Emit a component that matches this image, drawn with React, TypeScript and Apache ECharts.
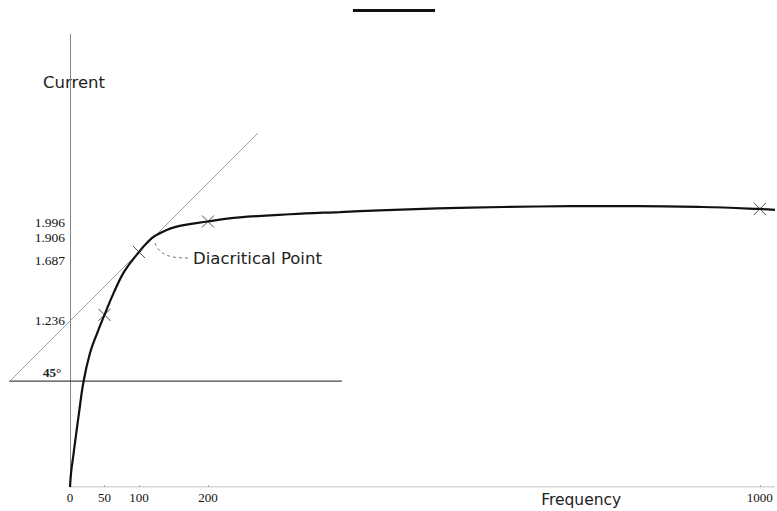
import React, { useEffect, useRef } from "react";
import * as echarts from "echarts";

// Tick labels
const freqTicks = [0, 50, 100, 200, 1000];
const currentTicks = [1.236, 1.687, 1.906, 1.996];

// Measured points (marked with crosses)
const measuredFreq = [50, 100, 200, 1000];
const measuredCurrent = [1.236, 1.687, 1.906, 1.996];

// Drawn curve
const curveFreq = [0, 1.5, 4.5, 8.5, 13, 19.5, 29, 39, 50, 63, 79, 100, 112, 124, 152, 200, 246, 319, 391, 449, 532, 628, 725, 822, 917, 1000, 1022];
const curveCurrent = [0, 0.1, 0.215, 0.365, 0.53, 0.754, 0.962, 1.1, 1.236, 1.39, 1.55, 1.687, 1.755, 1.805, 1.866, 1.906, 1.935, 1.958, 1.974, 1.986, 2.0, 2.01, 2.016, 2.017, 2.01, 1.996, 1.99];

// 45° tangent line at the diacritical point, and its horizontal base
const tangentFreq = [-88, 272.5];
const tangentCurrent = [0.756, 2.541];
const baseFreq = [-88, 394];
const baseCurrent = [0.76, 0.76];

// Frequency axis baseline (starts at 0)
const axisFreq = [0, 1022];
const axisCurrent = [0, 0];

// Per-label vertical shift (as engraved on the original plate)
const labelShift: Record<string, string> = {
  "1.236": "a",
  "1.687": "b",
  "1.906": "c",
  "1.996": "d",
};

export default function App() {
  const ref = useRef<HTMLDivElement>(null);
  useEffect(() => {
    if (!ref.current) return;
    const chart = echarts.init(ref.current, null, { renderer: "svg" });
    const serif = '"Liberation Serif", "Times New Roman", serif';
    const sans = '"DejaVu Sans", sans-serif';
    const labelStyle = { fontFamily: serif, fontSize: 13.5, color: "#111" };
    const gridLeft = 9.3;
    chart.setOption({
      animation: false,
      backgroundColor: "#ffffff",
      grid: {
        left: gridLeft,
        right: 2,
        top: 34.3,
        bottom: 24,
        containLabel: false,
        outerBoundsMode: "none",
      },
      xAxis: {
        type: "value",
        min: -88,
        max: 1022,
        splitLine: { show: false },
        axisLine: { show: false },
        axisTick: {
          show: true,
          inside: true,
          length: 2,
          customValues: freqTicks,
          lineStyle: { color: "#999", width: 0.8 },
        },
        axisLabel: {
          customValues: freqTicks,
          formatter: (v: number) => String(v),
          fontFamily: serif,
          fontSize: 13,
          color: "#111",
          margin: 4,
        },
      },
      yAxis: {
        type: "value",
        min: 0,
        max: 3.25,
        name: "Current",
        nameLocation: "end",
        nameGap: -48,
        nameTextStyle: {
          fontFamily: sans,
          fontSize: 16.5,
          color: "#222",
          align: "center",
          verticalAlign: "middle",
          padding: [0, 0, 0, 8],
        },
        splitLine: { show: false },
        axisLine: { show: true, onZero: true, lineStyle: { color: "#777", width: 0.9 } },
        axisTick: { show: false },
        axisLabel: {
          customValues: currentTicks,
          margin: -(70 - gridLeft - 5),
          formatter: (v: number) => {
            const s = v.toFixed(3);
            return "{" + (labelShift[s] || "a") + "|" + s + "}";
          },
          rich: {
            a: { ...labelStyle, padding: [12, 0, 0, 0] },
            b: { ...labelStyle, padding: [16, 0, 0, 0] },
            c: { ...labelStyle, padding: [32, 0, 0, 0] },
            d: { ...labelStyle, padding: [28, 0, 0, 0] },
          },
        },
      },
      series: [
        {
          name: "axis",
          type: "line",
          data: axisFreq.map((f, i) => [f, axisCurrent[i]]),
          showSymbol: false,
          silent: true,
          lineStyle: { color: "#999", width: 0.8 },
          z: 0,
        },
        {
          name: "base",
          type: "line",
          data: baseFreq.map((f, i) => [f, baseCurrent[i]]),
          showSymbol: false,
          silent: true,
          lineStyle: { color: "#444", width: 1.2 },
          z: 1,
        },
        {
          name: "tangent",
          type: "line",
          data: tangentFreq.map((f, i) => [f, tangentCurrent[i]]),
          showSymbol: false,
          silent: true,
          lineStyle: { color: "#888", width: 0.8 },
          z: 1,
        },
        {
          name: "curve",
          type: "line",
          data: curveFreq.map((f, i) => [f, curveCurrent[i]]),
          showSymbol: false,
          smooth: 0.4,
          lineStyle: { color: "#111", width: 2.2 },
          z: 3,
        },
        {
          name: "measured",
          type: "scatter",
          data: measuredFreq.map((f, i) => [f, measuredCurrent[i]]),
          symbol: "path://M0 0L10 10M10 0L0 10",
          symbolSize: 12,
          itemStyle: { color: "none", borderColor: "#222", borderWidth: 1 },
          z: 4,
        },
      ],
    });

    const P = chart.convertToPixel({ gridIndex: 0 }, [100, 1.687]) as number[];
    const Q = chart.convertToPixel({ gridIndex: 0 }, [-26, 0.76]) as number[];
    const F = chart.convertToPixel({ gridIndex: 0 }, [741, 0]) as number[];
    chart.setOption({
      graphic: [
        {
          type: "rect",
          shape: { x: 353, y: 9, width: 82, height: 3 },
          style: { fill: "#111" },
        },
        {
          type: "bezierCurve",
          shape: {
            x1: P[0] + 16,
            y1: P[1] - 9,
            cpx1: P[0] + 21,
            cpy1: P[1] + 3,
            cpx2: P[0] + 30,
            cpy2: P[1] + 6,
            x2: P[0] + 49,
            y2: P[1] + 6,
          },
          style: { stroke: "#555", lineWidth: 0.8, lineDash: [3, 3], fill: "none" },
        },
        {
          type: "text",
          x: P[0] + 54,
          y: P[1] + 6,
          style: {
            text: "Diacritical Point",
            fontFamily: sans,
            fontSize: 16.5,
            fill: "#222",
            verticalAlign: "middle",
            align: "left",
          },
        },
        {
          type: "text",
          x: F[0],
          y: F[1] + 13,
          style: {
            text: "Frequency",
            fontFamily: sans,
            fontSize: 15.5,
            fill: "#222",
            verticalAlign: "middle",
            align: "center",
          },
        },
        {
          type: "text",
          x: Q[0],
          y: Q[1] - 9,
          style: {
            text: "45°",
            fontFamily: serif,
            fontSize: 13,
            fontWeight: "bold",
            fill: "#222",
            verticalAlign: "middle",
            align: "center",
          },
        },
      ],
    });

    return () => chart.dispose();
  }, []);
  return (
    <div
      ref={ref}
      style={{ position: "fixed", left: 0, top: 0, width: 777, height: 511, background: "#fff" }}
    />
  );
}
